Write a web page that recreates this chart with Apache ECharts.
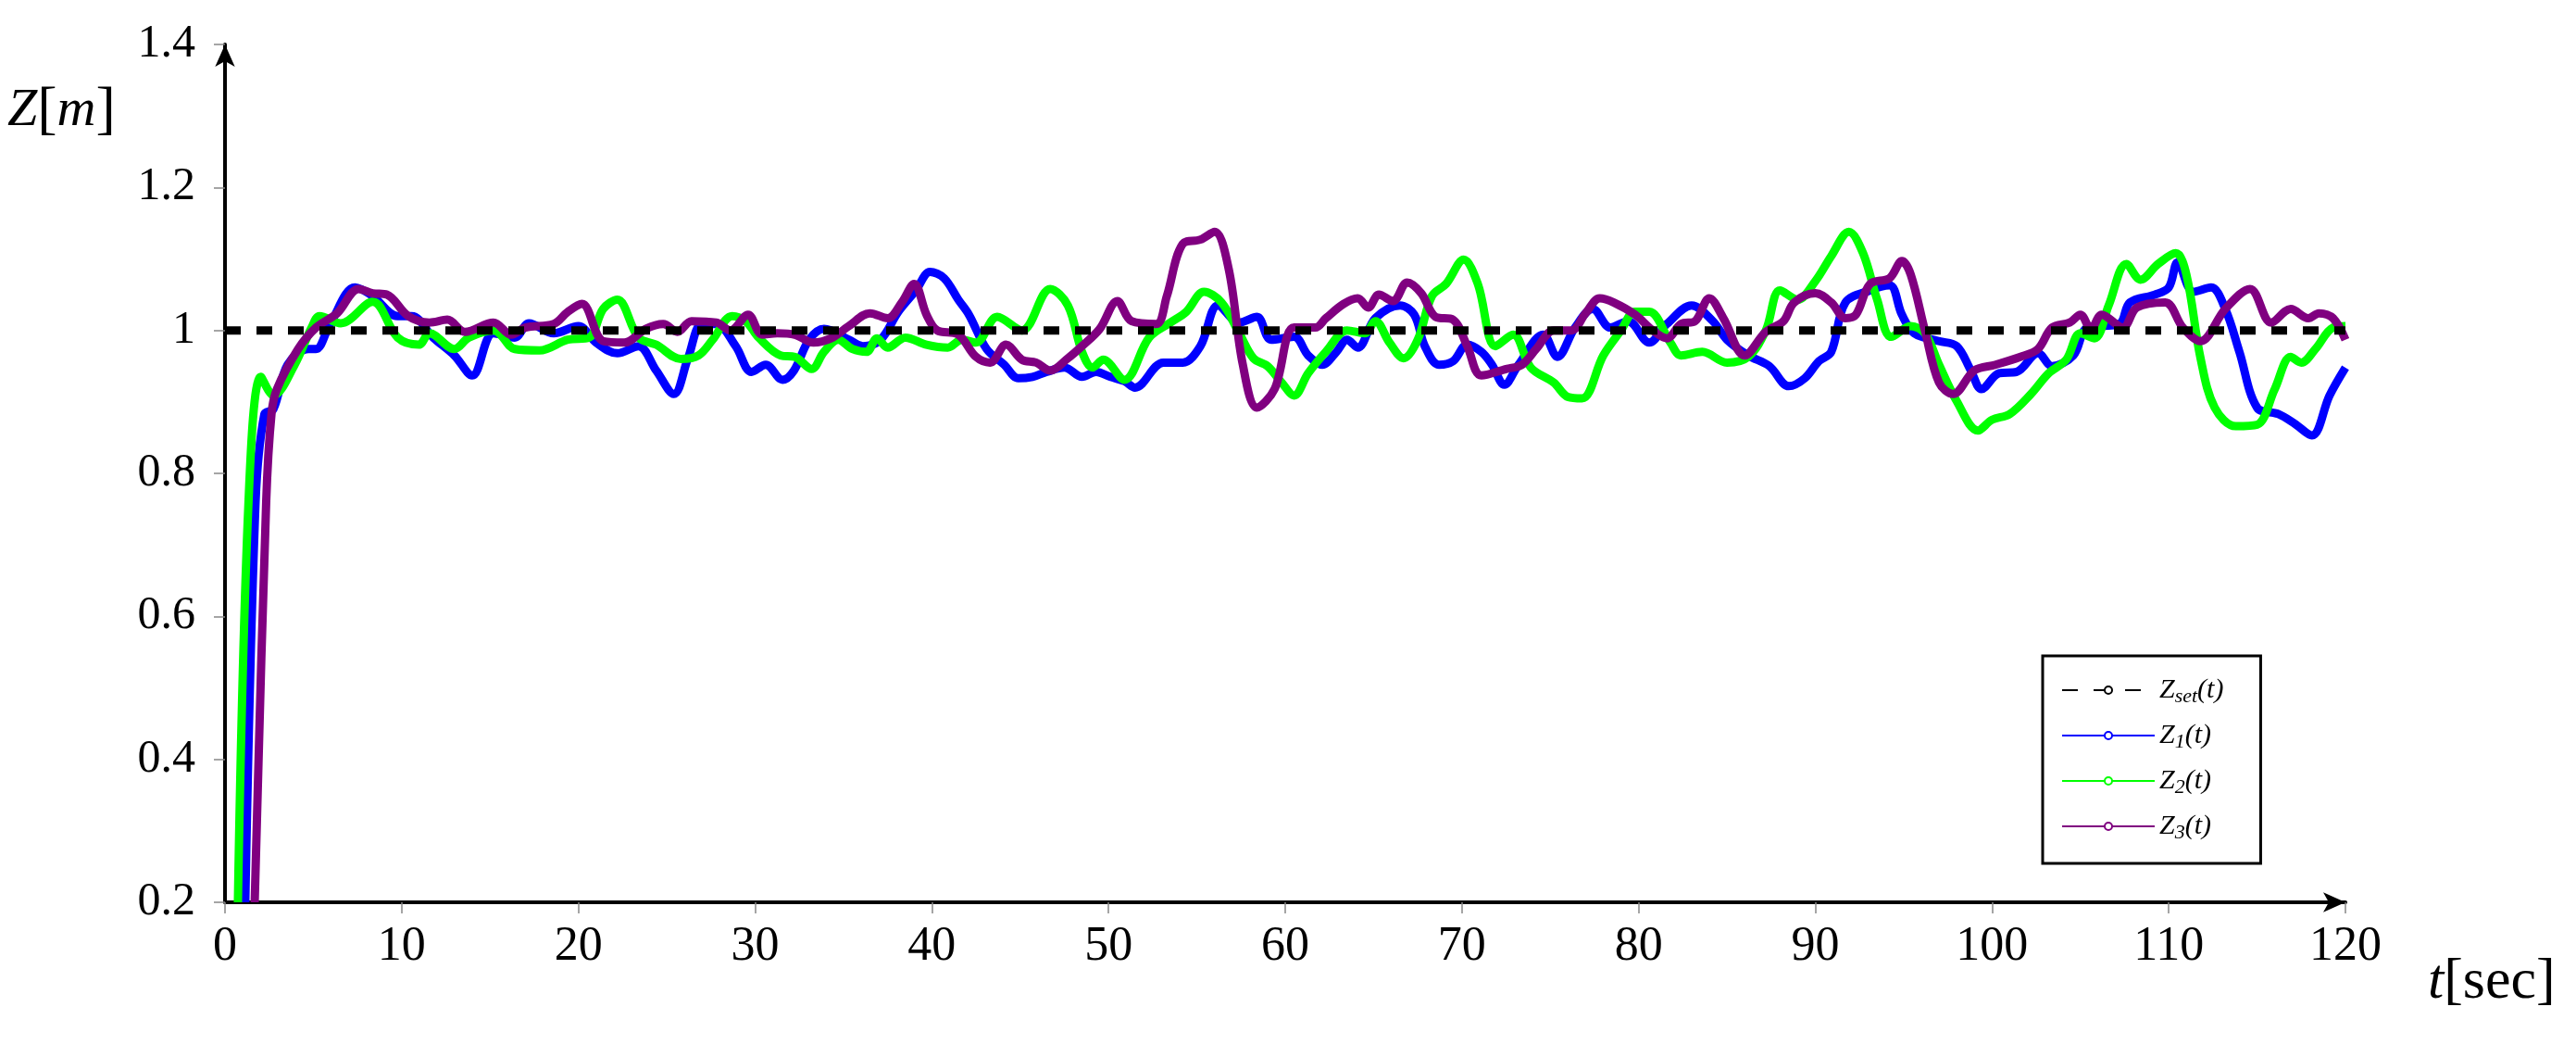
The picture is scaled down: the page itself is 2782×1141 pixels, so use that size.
<!DOCTYPE html>
<html><head><meta charset="utf-8">
<script src="https://cdn.jsdelivr.net/npm/echarts@6/dist/echarts.min.js"></script>
<style>html,body{margin:0;padding:0;background:#fff}#c{width:2782px;height:1141px}</style>
</head><body><div id="c"></div>
<script>
const xTicks = [0,10,20,30,40,50,60,70,80,90,100,110,120];
const yTicks = [0.2,0.4,0.6,0.8,1,1.2,1.4];
const zSet = [[0,1],[120,1]];
const z1 = [[1.15,0.2],[1.73,0.76],[2.23,0.883],[2.74,0.89],[3.54,0.952],[4.74,0.974],[5.15,0.974],[5.95,1.009],[7.36,1.06],[8.36,1.048],[9.77,1.02],[10.57,1.02],[11.78,0.99],[12.98,0.965],[13.99,0.937],[15.19,0.996],[16.4,0.99],[17.2,1.01],[18.6,0.996],[20.0,1.006],[21.0,0.983],[22.2,0.968],[23.4,0.978],[24.4,0.944],[25.4,0.911],[26.2,0.961],[27.0,1.009],[27.8,1.009],[28.9,0.978],[29.8,0.942],[30.6,0.952],[31.55,0.931],[32.2,0.944],[33.06,0.987],[33.9,1.002],[35.3,0.987],[36.1,0.978],[37.1,0.987],[38.1,1.026],[39.1,1.056],[39.9,1.082],[40.7,1.073],[41.5,1.043],[42.1,1.022],[43.1,0.974],[44.1,0.952],[44.9,0.933],[45.7,0.935],[46.5,0.942],[47.5,0.948],[48.5,0.935],[49.3,0.942],[50.1,0.935],[50.9,0.929],[51.5,0.92],[53.1,0.955],[54.2,0.955],[55.2,0.978],[56.2,1.035],[57.4,1.011],[58.4,1.019],[59.2,0.987],[60.5,0.991],[61.3,0.965],[62.1,0.952],[62.9,0.97],[63.5,0.987],[64.1,0.976],[65.1,1.017],[66.5,1.035],[67.3,1.022],[67.9,0.978],[68.7,0.952],[69.5,0.957],[70.3,0.98],[71.1,0.97],[71.7,0.952],[72.4,0.924],[73.2,0.952],[74.6,0.994],[75.4,0.963],[76.4,1.004],[77.4,1.03],[78.4,1.004],[79.4,1.013],[80.6,0.983],[81.6,1.009],[83.0,1.035],[84.2,1.013],[85.0,0.987],[86.2,0.965],[87.4,0.95],[88.5,0.922],[89.4,0.933],[90.2,0.957],[90.9,0.97],[91.7,1.039],[93.1,1.056],[94.2,1.063],[94.9,1.022],[95.6,0.996],[97.0,0.985],[98.0,0.978],[98.8,0.944],[99.4,0.918],[100.4,0.94],[101.4,0.942],[102.6,0.968],[103.4,0.95],[104.6,0.965],[105.4,1.004],[107.2,1.009],[107.8,1.039],[109.2,1.05],[110.0,1.06],[110.5,1.095],[111.4,1.054],[112.4,1.06],[113.2,1.03],[114.0,0.97],[115.0,0.892],[116.2,0.883],[117.1,0.87],[118.1,0.853],[119.1,0.909],[120.0,0.948]];
const z2 = [[0.73,0.2],[1.33,0.76],[2.03,0.935],[2.74,0.909],[3.94,0.952],[4.9,1.004],[5.35,1.02],[6.55,1.01],[8.36,1.04],[9.77,0.99],[10.97,0.98],[11.57,0.996],[12.98,0.974],[13.8,0.99],[15.2,1.0],[16.4,0.974],[17.8,0.972],[19.4,0.987],[20.6,0.99],[21.4,1.03],[22.2,1.043],[23.4,0.99],[24.4,0.98],[25.8,0.96],[26.8,0.965],[27.6,0.987],[28.7,1.02],[29.5,1.012],[30.2,0.99],[31.45,0.965],[32.25,0.963],[33.2,0.946],[33.9,0.97],[34.7,0.987],[35.5,0.974],[36.3,0.97],[36.9,0.989],[37.5,0.976],[38.5,0.99],[39.7,0.98],[40.9,0.976],[41.7,0.987],[42.5,0.983],[43.7,1.019],[45.1,1.0],[46.7,1.058],[47.7,1.035],[48.5,0.97],[49.1,0.948],[49.7,0.959],[50.9,0.931],[52.3,0.99],[53.5,1.011],[54.4,1.026],[55.4,1.054],[56.4,1.039],[57.4,0.996],[58.2,0.961],[59.0,0.95],[59.8,0.927],[60.5,0.909],[61.3,0.94],[62.3,0.97],[63.5,1.0],[64.5,0.996],[65.1,1.013],[65.9,0.983],[66.7,0.961],[67.5,0.987],[68.3,1.048],[69.1,1.065],[70.1,1.099],[70.9,1.065],[71.9,0.978],[72.9,0.994],[73.9,0.948],[75.2,0.927],[76.0,0.907],[76.8,0.905],[78.0,0.965],[79.0,1.0],[79.8,1.026],[80.6,1.026],[81.8,0.983],[82.4,0.965],[83.6,0.97],[85.0,0.955],[86.2,0.963],[87.2,1.0],[88.0,1.056],[89.0,1.043],[90.0,1.069],[90.9,1.104],[91.9,1.138],[92.7,1.108],[93.5,1.043],[94.3,0.991],[95.4,1.006],[96.2,0.996],[97.0,0.952],[98.0,0.901],[99.2,0.86],[100.0,0.875],[101.0,0.883],[102.2,0.911],[103.2,0.94],[104.2,0.959],[105.0,0.996],[105.8,0.989],[106.6,1.035],[107.6,1.093],[108.4,1.071],[109.4,1.093],[110.4,1.108],[111.0,1.078],[111.8,0.961],[112.6,0.892],[113.8,0.866],[115.0,0.868],[116.0,0.918],[116.9,0.963],[117.5,0.955],[118.3,0.974],[119.3,1.004],[120.0,1.006]];
const z3 = [[1.68,0.2],[2.33,0.76],[2.63,0.883],[2.94,0.918],[4.14,0.974],[5.15,1.004],[6.35,1.024],[7.56,1.058],[8.36,1.052],[9.16,1.05],[10.37,1.02],[11.57,1.011],[12.58,1.015],[13.58,0.998],[15.19,1.011],[16.2,0.994],[17.0,1.004],[18.6,1.009],[19.4,1.026],[20.2,1.037],[21.4,0.985],[22.6,0.983],[23.8,1.002],[24.8,1.009],[25.6,0.998],[26.4,1.013],[27.8,1.011],[28.6,1.0],[29.6,1.022],[30.4,0.994],[31.25,0.996],[32.25,0.994],[33.3,0.983],[34.3,0.989],[35.3,1.006],[36.5,1.024],[37.5,1.017],[38.3,1.039],[39.0,1.065],[39.7,1.022],[40.3,1.0],[41.5,0.994],[42.5,0.963],[43.3,0.955],[44.2,0.98],[45.1,0.959],[45.9,0.955],[46.7,0.944],[47.7,0.961],[48.5,0.978],[49.5,1.002],[50.5,1.041],[51.3,1.013],[52.7,1.009],[53.3,1.048],[54.2,1.121],[55.2,1.127],[56.0,1.138],[56.8,1.086],[57.6,0.952],[58.4,0.892],[59.4,0.918],[60.5,1.004],[61.7,1.004],[62.3,1.017],[63.3,1.037],[64.1,1.045],[64.7,1.032],[65.3,1.05],[66.1,1.041],[66.9,1.067],[67.7,1.052],[68.5,1.019],[69.5,1.015],[70.3,0.978],[71.1,0.937],[72.5,0.946],[73.4,0.952],[74.2,0.974],[75.2,1.0],[76.2,1.0],[77.0,1.024],[77.8,1.045],[78.6,1.039],[79.8,1.022],[80.8,1.0],[81.6,0.989],[82.4,1.009],[83.2,1.013],[84.0,1.045],[84.8,1.017],[86.0,0.965],[87.2,0.998],[88.2,1.013],[88.8,1.039],[90.0,1.052],[90.9,1.039],[91.7,1.017],[92.3,1.022],[93.1,1.065],[94.2,1.073],[94.9,1.097],[95.4,1.078],[96.2,1.0],[97.0,0.927],[97.8,0.911],[99.0,0.944],[100.2,0.952],[101.6,0.963],[102.6,0.974],[103.4,1.004],[104.4,1.011],[105.0,1.022],[105.6,1.002],[106.2,1.022],[107.4,1.004],[108.2,1.032],[109.8,1.039],[110.8,1.004],[111.8,0.985],[113.2,1.03],[114.6,1.058],[115.8,1.011],[116.9,1.03],[117.9,1.017],[118.5,1.024],[119.3,1.017],[120.0,0.987]];

const serif = 'Liberation Serif';
const chart = echarts.init(document.getElementById('c'));
const line = (name, data, color, dash, z) => ({
  name, type: 'line', data, showSymbol: false, smooth: dash ? false : 0.35, z,
  lineStyle: {color, width: 9, type: dash ? [17,17] : 'solid', cap: 'butt'},
  itemStyle: {color}
});
const rich = {
  m: {fontFamily: serif, fontStyle: 'italic', fontSize: 30, color: '#000'},
  s: {fontFamily: serif, fontStyle: 'italic', fontSize: 22, color: '#000', padding: [14,0,0,0]}
};
const legendText = {'Zset': '{m|Z}{s|set}{m|(t)}', 'Z1': '{m|Z}{s|1}{m|(t)}', 'Z2': '{m|Z}{s|2}{m|(t)}', 'Z3': '{m|Z}{s|3}{m|(t)}'};
chart.setOption({
  animation: false,
  backgroundColor: '#fff',
  grid: {left: 243, right: 249, top: 48, bottom: 167},
  xAxis: {
    type: 'value', min: 0, max: 120, interval: 10,
    axisLine: {show: true, onZero: false, lineStyle: {color: '#000', width: 4}, symbol: ['none','arrow'], symbolSize: [16,24]},
    axisTick: {show: true, length: 12, lineStyle: {color: '#888', width: 1.5}},
    axisLabel: {fontFamily: serif, fontSize: 52, color: '#000', margin: 22},
    splitLine: {show: false}
  },
  yAxis: {
    type: 'value', min: 0.2, max: 1.4, interval: 0.2,
    axisLine: {show: true, onZero: false, lineStyle: {color: '#000', width: 4}, symbol: ['none','arrow'], symbolSize: [16,24]},
    axisTick: {show: true, length: 12, lineStyle: {color: '#888', width: 1.5}},
    axisLabel: {fontFamily: serif, fontSize: 50, color: '#000', margin: 32, formatter: v => String(+v.toFixed(1))},
    splitLine: {show: false}
  },
  legend: {
    orient: 'vertical', left: 2206, top: 708, width: 257,
    backgroundColor: '#fff', borderColor: '#000', borderWidth: 3, borderRadius: 0,
    padding: [22, 40, 22, 20], itemGap: 16, itemWidth: 100, itemHeight: 10,
    data: ['Zset','Z1','Z2','Z3'],
    formatter: n => legendText[n], textStyle: {rich}
  },
  graphic: [
    {type: 'text', left: 8, top: 88, style: {text: '{a|Z}{b|[}{c|m}{b|]}', rich: {
      a: {fontFamily: serif, fontStyle: 'italic', fontSize: 58, color: '#000'},
      b: {fontFamily: serif, fontSize: 64, color: '#000'},
      c: {fontFamily: serif, fontStyle: 'italic', fontSize: 58, color: '#000'}}}},
    {type: 'text', left: 2622, top: 1030, style: {text: '{a|t}{b|[sec]}', rich: {
      a: {fontFamily: serif, fontStyle: 'italic', fontSize: 62, color: '#000'},
      b: {fontFamily: serif, fontSize: 62, color: '#000'}}}}
  ],
  series: [
    line('Zset', zSet, '#000', true, 5),
    line('Z1', z1, '#0000ff', false, 2),
    line('Z2', z2, '#00ff00', false, 3),
    line('Z3', z3, '#800080', false, 4)
  ]
});
</script></body></html>
